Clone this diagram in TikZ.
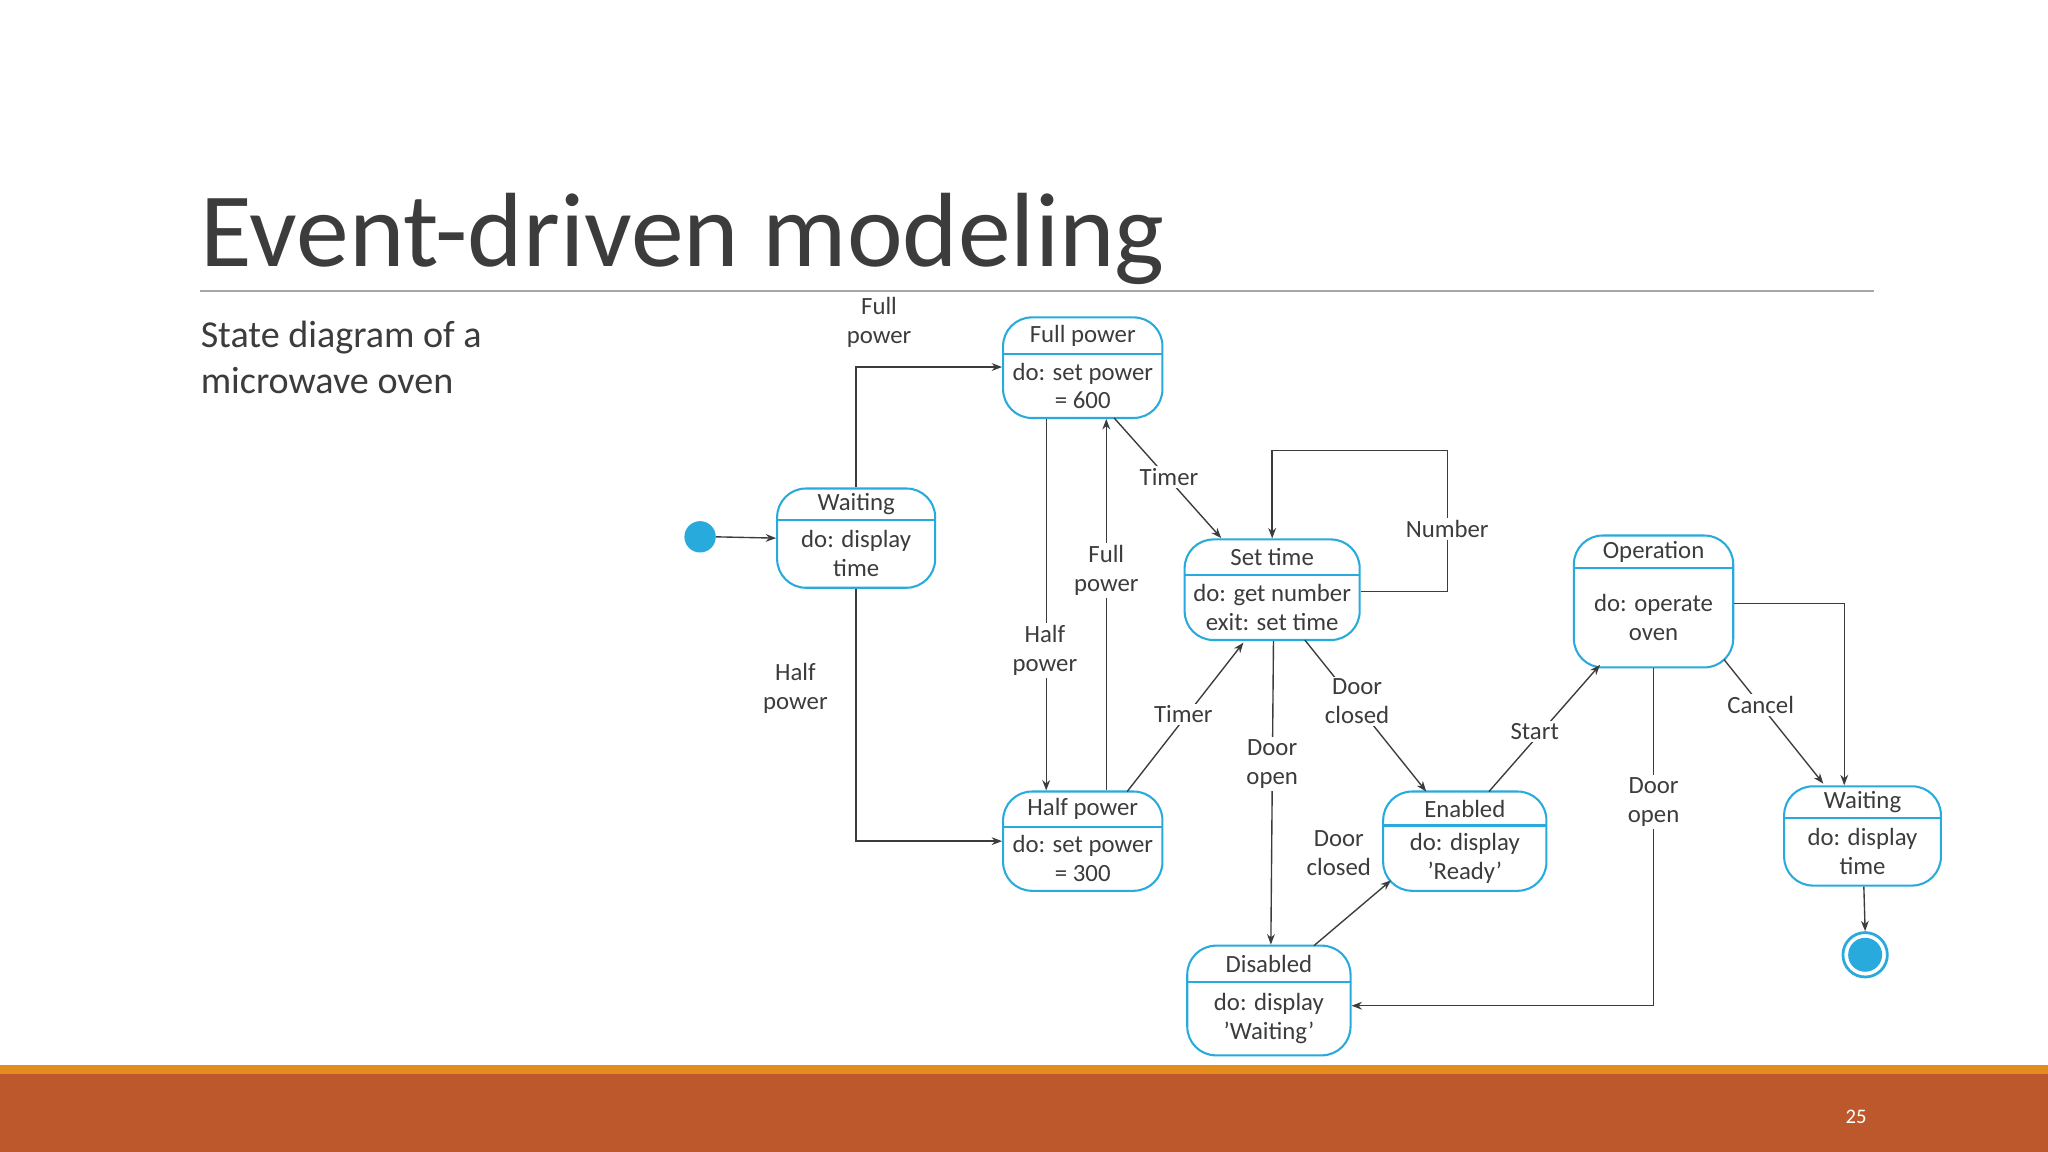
\documentclass[tikz,border=0pt]{standalone}
\usepackage{fontspec}
\setmainfont{Carlito}
\usetikzlibrary{arrows.meta}
\definecolor{stc}{RGB}{40,170,220}
\definecolor{band1}{RGB}{228,140,30}
\definecolor{band2}{RGB}{188,88,44}
\definecolor{txt}{RGB}{60,60,60}
\begin{document}
\begin{tikzpicture}[x=0.1mm,y=-0.1mm,
  st/.style={draw=stc,line width=0.45pt,rounded corners=2.2mm,inner sep=0},
  lab/.style={font=\fontsize{5.4}{6.3}\selectfont,text=txt,align=center,inner sep=0.5pt},
  wl/.style={lab,fill=white},
  ar/.style={draw=txt,line width=0.3pt,-{Stealth[length=0.8mm,width=0.6mm]}},
  ln/.style={draw=txt,line width=0.3pt}]
\useasboundingbox (0,0) rectangle (1568,882);
\fill[band1] (0,815) rectangle (1568,822);
\fill[band2] (0,822) rectangle (1568,882);
\node[text=white,font=\fontsize{4.5}{5}\selectfont] (pg) at (1421,855) {25};
\node[anchor=base west,text=txt,font=\fontsize{23}{26}\selectfont,inner sep=0] (title) at (153,204) {Event-driven modeling};
\draw[gray!70,line width=0.35pt] (153,223) -- (1435,223);
\node[anchor=north west,text=txt,align=left,font=\fontsize{8.3}{10}\selectfont,inner sep=0] (sub) at (153,245) {State diagram of a\\microwave oven};
% states: name, x1,y1,x2,y2, divider, title, body
\newcommand{\mystate}[8]{%
  \node[st,minimum width={(#4-#2)*0.1mm},minimum height={(#5-#3)*0.1mm}] (#1) at ({(#2+#4)/2},{(#3+#5)/2}) {};
  \draw[stc,line width=0.45pt] (#2,#6) -- (#4,#6);
  \node[lab] (#1t) at ({(#2+#4)/2},{(#3+#6)/2}) {#7};
  \node[lab] (#1b) at ({(#2+#4)/2},{(#6+#5)/2}) {#8};}
\mystate{fp}{768}{243}{890}{320}{271}{Full power}{do: set power\\= 600}
\mystate{w1}{595}{374}{716}{450}{398}{Waiting}{do: display\\time}
\mystate{stime}{907}{413}{1041}{490}{440}{Set time}{do: get number\\exit: set time}
\mystate{hp}{768}{606}{890}{682}{633}{Half power}{do: set power\\= 300}
\mystate{en}{1059}{606}{1184}{682}{632}{Enabled}{do: display\\'Ready'}
\mystate{dis}{909}{724}{1034}{808}{752}{Disabled}{do: display\\'Waiting'}
\mystate{op}{1205}{410}{1327}{511}{435}{Operation}{do: operate\\oven}
\mystate{w2}{1366}{602}{1486}{678}{626}{Waiting}{do: display\\time}
\fill[stc] (536,411) circle (12) coordinate (init);
\node[circle,draw=stc,line width=0.6pt,minimum size=3.4mm,inner sep=0] (fin) at (1428,731) {};
\fill[stc] (fin.center) circle (13);
% edges
\draw[ar] (init)+(12,0) -- (w1.west);
\draw[ar] (w1.north) |- (fp.west |- 0,281);
\node[lab] at (673,247) {Full\\power};
\draw[ar] (w1.south) |- (hp.west |- 0,644);
\node[lab] at (609,527) {Half\\power};
\draw[ar] (fp.south -| 801,0) -- (hp.north -| 801,0);
\node[wl] at (800,498) {Half\\power};
\draw[ar] (hp.north -| 847,0) -- (fp.south -| 847,0);
\node[wl] at (847,437) {Full\\power};
\draw[ar] (853,320) -- (935,412);
\node[wl] at (895,365) {Timer};
\draw[ar] (863,606) -- (952,492);
\node[wl] at (906,547) {Timer};
\draw[ar] (stime.east |- 0,453) -- (1108,453) -- (1108,345) -- (974,345) -- (stime.north -| 974,0);
\node[wl] at (1108,405) {Number};
\draw[ar] (stime.south -| 975,0) -- (dis.north -| 973,0);
\node[wl] at (974,585) {Door\\open};
\draw[ar] (999,490) -- (1092,606);
\node[wl] at (1039,537) {Door\\closed};
\draw[ar] (1006,724) -- (1065,674);
\node[lab] at (1025,653) {Door\\closed};
\draw[ar] (1140,606) -- (1225,509);
\node[wl] at (1175,560) {Start};
\draw[ar] (op.south) |- (dis.east |- 0,770);
\node[wl] at (1266,614) {Door\\open};
\draw[ar] (1320,505) -- (1396,600);
\node[wl] at (1348,540) {Cancel};
\draw[ar] (op.east |- 0,462) -| (w2.north -| 1412,0);
\draw[ar] (w2.south -| 1427,0) -- (fin.north);
\end{tikzpicture}
\end{document}
